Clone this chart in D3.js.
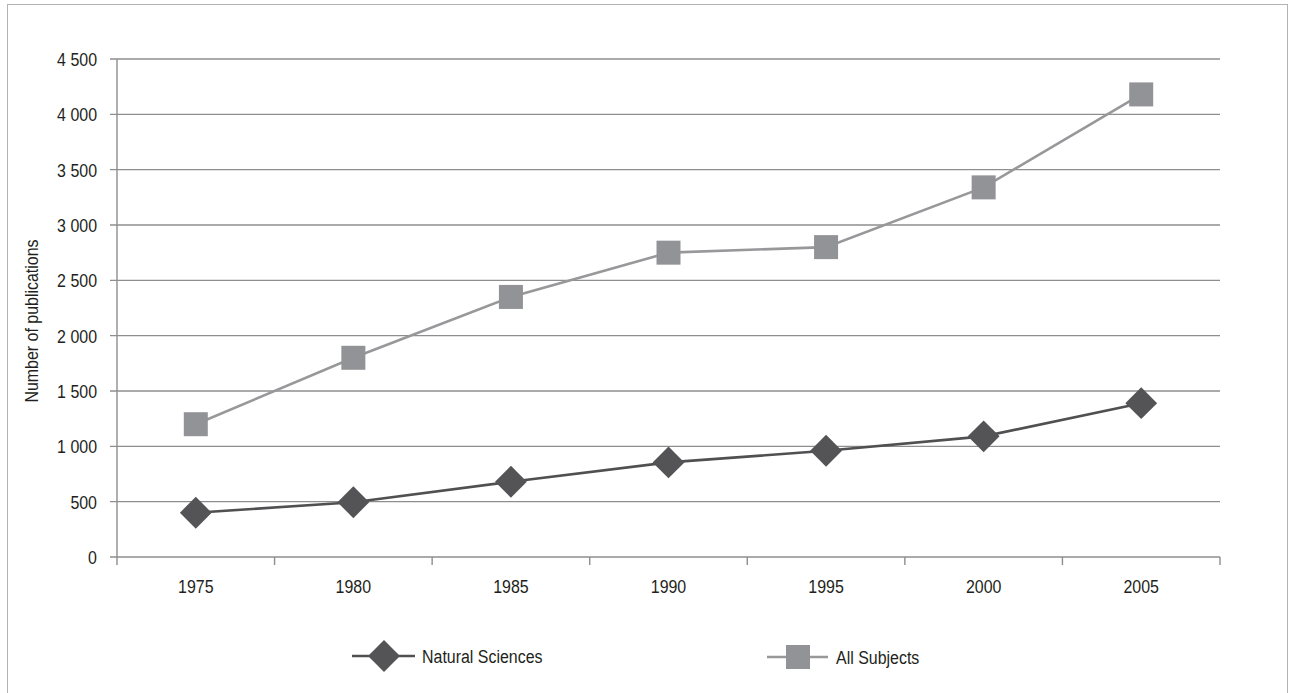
<!DOCTYPE html>
<html><head><meta charset="utf-8">
<script src="https://cdn.jsdelivr.net/npm/d3@7"></script>
<style>
html,body{margin:0;padding:0;background:#fff;}
svg{display:block;}
text{font-family:"Liberation Sans","Arial",sans-serif;fill:#231f20;}
</style></head>
<body>
<svg id="c" width="1293" height="693"></svg>
<script>
const years = ["1975","1980","1985","1990","1995","2000","2005"];
const naturalSciences = [400, 495, 680, 855, 960, 1090, 1390];
const allSubjects = [1200, 1800, 2350, 2750, 2800, 3340, 4180];
const yTicks = [0,500,1000,1500,2000,2500,3000,3500,4000,4500];
const seriesNames = ["Natural Sciences","All Subjects"];
const yTitle = "Number of publications";

(function(){
const svg = d3.select("#c");
const pLeft = 117, pRight = 1220, pTop = 59, pBottom = 557;
const FS = 19, SX = 0.84; // condensed look

svg.append("rect").attr("x",7.5).attr("y",4.5).attr("width",1280).attr("height",700)
  .attr("fill","none").attr("stroke","#b3b3b3").attr("stroke-width",1);

const x = d3.scaleBand().domain(years).range([pLeft,pRight]).padding(0);
const y = d3.scaleLinear().domain([0,4500]).range([pBottom,pTop]);
const fmt = v => v >= 1000 ? d3.format(",")(v).replace(/,/g," ") : String(v);

// gridlines
svg.append("g").selectAll("line").data(yTicks).join("line")
  .attr("x1",pLeft-7).attr("x2",pRight)
  .attr("y1",d=>y(d)).attr("y2",d=>y(d))
  .attr("stroke","#8e8e8e").attr("stroke-width",1.4);

// y axis line
svg.append("line").attr("x1",pLeft).attr("x2",pLeft).attr("y1",pTop).attr("y2",pBottom)
  .attr("stroke","#8e8e8e").attr("stroke-width",1.4);

// y labels
svg.append("g").selectAll("text").data(yTicks).join("text")
  .attr("transform",d=>`translate(97,${y(d)}) scale(${SX},1)`)
  .attr("dy","0.36em").attr("text-anchor","end")
  .attr("font-size",FS).text(fmt);

// x ticks at band boundaries
const bounds = years.map(d=>x(d)).concat([x(years[years.length-1])+x.bandwidth()]);
svg.append("g").selectAll("line").data(bounds).join("line")
  .attr("x1",d=>d).attr("x2",d=>d).attr("y1",pBottom).attr("y2",pBottom+8)
  .attr("stroke","#8e8e8e").attr("stroke-width",1.4);

svg.append("g").selectAll("text").data(years).join("text")
  .attr("transform",d=>`translate(${x(d)+x.bandwidth()/2},586) scale(${SX},1)`)
  .attr("dy","0.36em")
  .attr("text-anchor","middle").attr("font-size",FS).text(d=>d);

// y title
svg.append("text").attr("transform",`translate(31,321) rotate(-90) scale(${SX},1)`)
  .attr("text-anchor","middle").attr("dy","0.36em").attr("font-size",FS).text(yTitle);

const cx = (d,i)=>x(years[i])+x.bandwidth()/2;
const line = d3.line().x((d,i)=>cx(d,i)).y(d=>y(d));

const darkC = "#505052", lightC = "#98989b", sqC = "#929396", diaC = "#545456";

// All Subjects
svg.append("path").datum(allSubjects).attr("d",line).attr("fill","none")
  .attr("stroke",lightC).attr("stroke-width",2.6);
svg.append("g").selectAll("rect").data(allSubjects).join("rect")
  .attr("x",(d,i)=>cx(d,i)-12).attr("y",d=>y(d)-12).attr("width",24).attr("height",24)
  .attr("fill",sqC);

// Natural Sciences
svg.append("path").datum(naturalSciences).attr("d",line).attr("fill","none")
  .attr("stroke",darkC).attr("stroke-width",2.6);
const diamond = d3.symbol().type(d3.symbolSquare).size(22.5*22.5);
svg.append("g").selectAll("path").data(naturalSciences).join("path")
  .attr("d",diamond)
  .attr("transform",(d,i)=>`translate(${cx(d,i)},${y(d)}) rotate(45)`)
  .attr("fill",diaC);

// legend
const lg = svg.append("g");
lg.append("line").attr("x1",352).attr("x2",415).attr("y1",656).attr("y2",656)
  .attr("stroke",darkC).attr("stroke-width",2.6);
lg.append("path").attr("d",diamond).attr("transform","translate(384,656) rotate(45)").attr("fill",diaC);
lg.append("text").attr("transform",`translate(422,656) scale(${SX},1)`).attr("dy","0.36em")
  .attr("font-size",FS).text(seriesNames[0]);

lg.append("line").attr("x1",767).attr("x2",828).attr("y1",657).attr("y2",657)
  .attr("stroke",lightC).attr("stroke-width",2.6);
lg.append("rect").attr("x",786).attr("y",645).attr("width",24).attr("height",24).attr("fill",sqC);
lg.append("text").attr("transform",`translate(836,657) scale(${SX},1)`).attr("dy","0.36em")
  .attr("font-size",FS).text(seriesNames[1]);
})();
</script>
</body></html>
